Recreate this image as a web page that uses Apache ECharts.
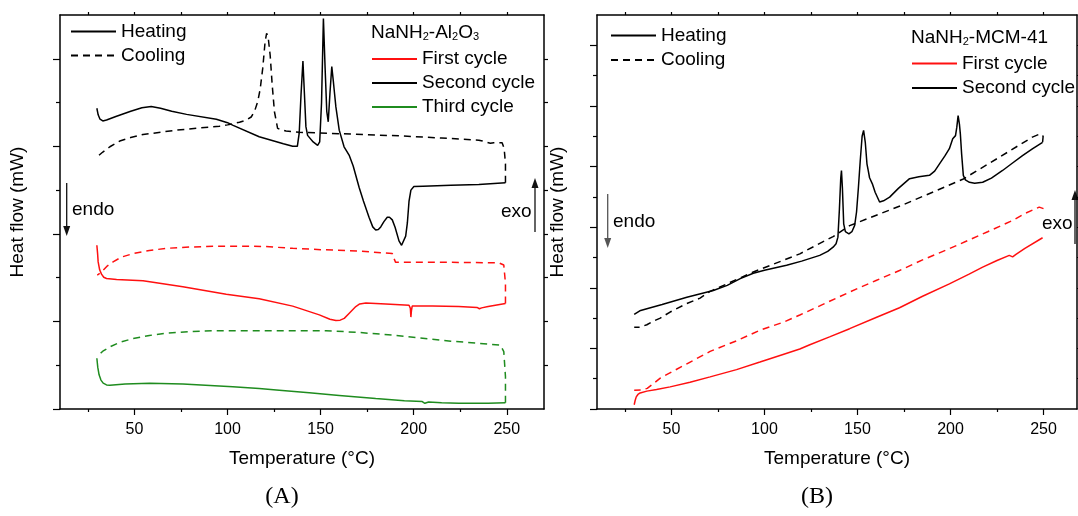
<!DOCTYPE html>
<html>
<head>
<meta charset="utf-8">
<script src="https://cdn.jsdelivr.net/npm/echarts@6/dist/echarts.min.js"></script>
<style>
html,body{margin:0;padding:0;background:#fff;}
#chart{width:1078px;height:516px;}
</style>
</head>
<body>
<div id="chart"></div>
<script>
// ---------- tick values ----------
const xMajorTicks = [50, 100, 150, 200, 250];
const xMinorTicks = [25, 75, 125, 175, 225];
const xAllTicks = [25, 50, 75, 100, 125, 150, 175, 200, 225, 250];
const yMajorA = [0, 2, 4, 6, 8];
const yMinorA = [1, 3, 5, 7];
const yAllA = [1, 2, 3, 4, 5, 6, 7, 8];
const yMajorB = [0, 2, 4, 6, 8, 10, 12];
const yMinorB = [1, 3, 5, 7, 9, 11];
const yAllB = [1, 2, 3, 4, 5, 6, 7, 8, 9, 10, 11, 12];

// ---------- Panel A: NaNH2-Al2O3 ----------
const aSecondHeat = [[29.8,6.87],[30.5,6.72],[31.5,6.62],[33,6.58],[35,6.60],[40,6.68],[48,6.80],[54,6.88],[59,6.91],[64,6.87],[70,6.80],[78,6.73],[94,6.62],[100,6.54],[103,6.48],[117,6.22],[130,6.06],[135,6.00],[137.5,6.00],[138.5,6.3],[139.5,7.2],[140.5,7.95],[141.3,7.2],[142.1,6.45],[143,6.25],[146,6.1],[148.4,6.02],[149.5,6.1],[150.5,7.0],[151.5,8.92],[152.4,7.8],[153.3,6.8],[154.1,6.56],[155,7.2],[156,7.82],[156.8,7.5],[157.4,7.24],[158.2,6.9],[160,6.37],[162.6,5.99],[165.3,5.80],[167.5,5.55],[170.7,5.06],[173,4.75],[176,4.38],[178,4.16],[179.6,4.09],[181,4.10],[182.3,4.16],[184,4.28],[185.8,4.38],[187,4.38],[188.5,4.32],[190,4.15],[192.1,3.84],[193.5,3.74],[194.5,3.76],[195.7,3.95],[196.6,4.25],[197.5,4.75],[198.5,5.0],[200.1,5.08],[205,5.09],[220,5.11],[235,5.13],[249.3,5.17]];
const aSecondCool = [[249.3,5.17],[249.3,5.6],[248.6,5.95],[247.5,6.08],[246.6,6.10],[243,6.08],[241.2,6.07],[237,6.12],[235,6.14],[215,6.19],[192,6.24],[160,6.29],[138.5,6.32],[131.4,6.35],[126.9,6.41],[125.2,6.79],[124,7.4],[122.9,8.08],[121.8,8.5],[121,8.58],[120.2,8.4],[118.9,7.78],[117.5,7.3],[116.2,7.02],[114.5,6.8],[112.7,6.67],[110,6.6],[106.4,6.55],[100,6.49],[95.7,6.46],[85,6.42],[72.5,6.37],[60,6.30],[54.6,6.27],[48,6.20],[42.1,6.12],[36.8,5.99],[33,5.87],[30.5,5.78]];
const aFirstHeat = [[29.8,3.74],[30.2,3.55],[30.5,3.36],[31.3,3.18],[32.3,3.08],[33.5,3.01],[35,2.98],[40.4,2.96],[54.6,2.93],[76,2.79],[99.3,2.62],[117,2.52],[135,2.35],[149.3,2.15],[155,2.05],[158.2,2.02],[160.5,2.03],[162.7,2.07],[165,2.17],[168.9,2.34],[171,2.40],[174.3,2.42],[185,2.40],[197.5,2.37],[198.2,2.30],[198.5,2.10],[198.8,2.25],[199.2,2.35],[210,2.35],[224.2,2.34],[234,2.32],[235.3,2.29],[236.5,2.31],[240,2.34],[249.3,2.41]];
const aFirstCool = [[249.3,2.41],[249.3,2.87],[248.4,3.29],[245.7,3.34],[220,3.35],[200,3.35],[190.3,3.35],[189.3,3.45],[188.5,3.55],[170.7,3.61],[150,3.64],[135,3.67],[120.7,3.71],[110,3.72],[93.9,3.72],[80,3.70],[67.1,3.67],[58,3.62],[49.3,3.55],[43,3.47],[38.5,3.36],[35.5,3.27],[33.2,3.17],[31.5,3.10],[30,3.06]];
const aThirdHeat = [[29.8,1.16],[30.3,0.95],[31,0.78],[32,0.66],[33.2,0.59],[35,0.55],[36.8,0.54],[45,0.57],[58.2,0.59],[76,0.57],[102.8,0.51],[117,0.47],[127.8,0.43],[143.9,0.37],[160,0.31],[179.6,0.24],[195,0.19],[204.6,0.17],[206,0.13],[207,0.14],[208,0.16],[215,0.14],[224.2,0.13],[240,0.13],[249.3,0.14]];
const aThirdCool = [[249.3,0.14],[249.3,0.74],[248.4,1.31],[246.6,1.46],[220,1.55],[188.5,1.69],[170,1.75],[152.8,1.79],[135,1.79],[117,1.79],[93.9,1.79],[80,1.77],[67.1,1.73],[58,1.68],[49.3,1.61],[42,1.52],[36.8,1.42],[33,1.32],[30,1.21]];

// ---------- Panel B: NaNH2-MCM-41 ----------
const bSecondHeat = [[30,3.12],[31,3.18],[33,3.24],[36.8,3.31],[45,3.45],[58.3,3.69],[72.5,3.91],[80,4.08],[87,4.30],[94,4.48],[100,4.58],[111.9,4.74],[120,4.88],[129.7,5.07],[134,5.2],[136.9,5.34],[138.5,5.45],[139.5,5.67],[140.3,6.6],[141,7.6],[141.4,7.87],[141.9,7.3],[142.6,6.11],[143.5,5.85],[145.4,5.78],[147,5.85],[148.5,6.06],[149.5,6.5],[150.5,7.3],[151.5,8.2],[152.5,9.0],[153.3,9.19],[154.2,8.8],[155.1,8.09],[155.7,7.9],[156.5,7.63],[157.2,7.6],[158,7.43],[159.5,7.15],[161.9,6.83],[164,6.87],[167.3,6.99],[172,7.28],[178,7.60],[183,7.66],[188.7,7.71],[191.5,7.85],[194.1,8.09],[197,8.35],[199.4,8.59],[201.2,8.92],[202.7,9.02],[203.4,9.3],[204.1,9.68],[204.8,9.4],[205.3,9.08],[206,8.4],[206.9,7.71],[208,7.56],[210.2,7.48],[213,7.45],[217.3,7.48],[222,7.62],[228,7.87],[233,8.10],[238.7,8.36],[244,8.58],[249.5,8.80]];
const bSecondCool = [[249.5,8.80],[249.8,9.0],[248.3,9.08],[244,8.97],[225,8.26],[206.6,7.58],[175,6.75],[145.8,6.05],[136.9,5.69],[119,5.12],[94,4.52],[70.8,3.88],[65.4,3.66],[58.3,3.48],[49.3,3.20],[44,3.0],[40.4,2.9],[36.8,2.78],[33,2.70],[30,2.70]];
const bFirstHeat = [[30,0.14],[30.5,0.28],[31.1,0.40],[32,0.48],[33.2,0.53],[36.8,0.59],[42,0.64],[49.3,0.73],[60,0.88],[70.8,1.06],[85,1.30],[97.6,1.55],[110,1.80],[119,1.98],[124.4,2.12],[135,2.38],[145.8,2.65],[160,3.02],[172.6,3.34],[185,3.72],[199.4,4.13],[210,4.45],[217.3,4.68],[225,4.90],[231.6,5.07],[232.6,5.10],[233.4,5.02],[234,5.03],[235.2,5.10],[240,5.30],[249.5,5.65]];
const bFirstCool = [[250,6.61],[247.7,6.66],[240,6.45],[233.4,6.22],[220,5.85],[199.4,5.29],[185,4.92],[172.6,4.57],[160,4.24],[145.8,3.86],[130,3.41],[119,3.1],[110,2.86],[97.6,2.6],[85,2.25],[70.8,1.90],[58,1.48],[50,1.22],[44,1.02],[40,0.82],[37,0.68],[34,0.63],[30,0.62]];

// ---------- texts ----------
const xName = 'Temperature (°C)';
const yName = 'Heat flow (mW)';
const legendStyleNames = ['Heating', 'Cooling'];
const legendA = ['First cycle', 'Second cycle', 'Third cycle'];
const legendB = ['First cycle', 'Second cycle'];

const FONT = 'Liberation Sans, Arial, sans-serif';
const RED = '#ff1010';
const GREEN = '#1f8c1f';
const BLACK = '#000';
const DASH = [7, 5];

const chart = echarts.init(document.getElementById('chart'), null, {renderer: 'canvas'});

const axisLineStyle = {show: true, onZero: false, lineStyle: {color: '#000', width: 1.5}};

function xAxes(grid) {
  const mx = grid === 0 ? 270 : 268;
  return [
    {gridIndex: grid, type: 'value', position: 'bottom', min: 10, max: mx,
     axisLine: axisLineStyle, splitLine: {show: false},
     axisTick: {show: true, customValues: xMajorTicks, length: 6, lineStyle: {color: '#000', width: 1.2}},
     axisLabel: {show: true, customValues: xMajorTicks, margin: 13, fontSize: 16, color: '#000', fontFamily: FONT},
     name: xName, nameLocation: 'middle', nameGap: 40,
     nameTextStyle: {fontSize: 19, color: '#000', fontFamily: FONT}},
    {gridIndex: grid, type: 'value', position: 'bottom', min: 10, max: mx,
     axisLine: {show: false, onZero: false}, splitLine: {show: false},
     axisTick: {show: true, customValues: xMinorTicks, length: 3, lineStyle: {color: '#000', width: 1.2}},
     axisLabel: {show: false}},
    {gridIndex: grid, type: 'value', position: 'top', min: 10, max: mx,
     axisLine: axisLineStyle, splitLine: {show: false},
     axisTick: {show: true, customValues: xAllTicks, length: 3, lineStyle: {color: '#000', width: 1.2}},
     axisLabel: {show: false}}
  ];
}
function yAxes(grid, max, major, minor, all, gap) {
  return [
    {gridIndex: grid, type: 'value', position: 'left', min: 0, max: max,
     axisLine: axisLineStyle, splitLine: {show: false},
     axisTick: {show: true, customValues: major, length: 7, lineStyle: {color: '#000', width: 1.2}},
     axisLabel: {show: false},
     name: yName, nameLocation: 'middle', nameGap: gap, nameRotate: 90,
     nameTextStyle: {fontSize: 19, color: '#000', fontFamily: FONT}},
    {gridIndex: grid, type: 'value', position: 'left', min: 0, max: max,
     axisLine: {show: false, onZero: false}, splitLine: {show: false},
     axisTick: {show: true, customValues: minor, length: 4, lineStyle: {color: '#000', width: 1.2}},
     axisLabel: {show: false}},
    {gridIndex: grid, type: 'value', position: 'right', min: 0, max: max,
     axisLine: axisLineStyle, splitLine: {show: false},
     axisTick: {show: true, customValues: all, length: 4, lineStyle: {color: '#000', width: 1.2}},
     axisLabel: {show: false}}
  ];
}

function line(name, data, color, dashed, xi, yi) {
  return {
    type: 'line', name: name, data: data, xAxisIndex: xi, yAxisIndex: yi,
    showSymbol: false, symbol: 'none', smooth: false, animation: false,
    lineStyle: {color: color, width: 1.5, type: dashed ? DASH : 'solid'},
    itemStyle: {color: color}, z: dashed ? 2 : 3
  };
}

const legendCommon = {
  orient: 'vertical', itemWidth: 45, itemHeight: 14, itemGap: 5, selectedMode: false,
  itemStyle: {opacity: 0, borderWidth: 0},
  textStyle: {fontSize: 19, color: '#000', fontFamily: FONT}, padding: 0
};

function subTitle(x, y, text) {
  return {
    type: 'text', x: x, y: y,
    style: {
      text: text, verticalAlign: 'middle', align: 'left',
      rich: {
        a: {fontSize: 19, fontFamily: FONT, fill: '#000', color: '#000', lineHeight: 24, verticalAlign: 'bottom'},
        s: {fontSize: 11, fontFamily: FONT, fill: '#000', color: '#000', lineHeight: 4, verticalAlign: 'bottom'}
      }
    }
  };
}
function plainText(x, y, text, size, family) {
  return {type: 'text', x: x, y: y,
    style: {text: text, fontSize: size, fontFamily: family || FONT, fill: '#000', verticalAlign: 'middle', align: 'left'}};
}
function arrow(x, y1, y2, color) {
  const dir = y2 > y1 ? 1 : -1;
  return {type: 'group', children: [
    {type: 'line', shape: {x1: x, y1: y1, x2: x, y2: y2 - dir * 8}, style: {stroke: color, lineWidth: 1.3}},
    {type: 'polygon', shape: {points: [[x, y2], [x - 3.5, y2 - dir * 10], [x + 3.5, y2 - dir * 10]]}, style: {fill: color}}
  ]};
}

const option = {
  backgroundColor: '#fff',
  animation: false,
  grid: [
    {left: 60, top: 15, width: 484, height: 394, containLabel: false},
    {left: 597, top: 15, width: 480, height: 394, containLabel: false}
  ],
  xAxis: [...xAxes(0), ...xAxes(1)],
  yAxis: [...yAxes(0, 9, yMajorA, yMinorA, yAllA, 33), ...yAxes(1, 13, yMajorB, yMinorB, yAllB, 30)],
  legend: [
    Object.assign({}, legendCommon, {left: 70, top: 22, data: legendStyleNames}),
    Object.assign({}, legendCommon, {left: 371, top: 49.5, data: legendA}),
    Object.assign({}, legendCommon, {left: 610, top: 26, data: legendStyleNames, itemGap: 5.5}),
    Object.assign({}, legendCommon, {left: 911, top: 54, data: legendB, itemGap: 5.5})
  ],
  series: [
    line('Heating', [], BLACK, false, 0, 0),
    line('Cooling', [], BLACK, true, 0, 0),
    line('First cycle', aFirstHeat, RED, false, 0, 0),
    line('First cycle', aFirstCool, RED, true, 0, 0),
    line('Second cycle', aSecondHeat, BLACK, false, 0, 0),
    line('Second cycle', aSecondCool, BLACK, true, 0, 0),
    line('Third cycle', aThirdHeat, GREEN, false, 0, 0),
    line('Third cycle', aThirdCool, GREEN, true, 0, 0),
    line('First cycle', bFirstHeat, RED, false, 3, 3),
    line('First cycle', bFirstCool, RED, true, 3, 3),
    line('Second cycle', bSecondHeat, BLACK, false, 3, 3),
    line('Second cycle', bSecondCool, BLACK, true, 3, 3)
  ],
  graphic: [
    subTitle(371, 30, '{a|NaNH}{s|2}{a|-Al}{s|2}{a|O}{s|3}'),
    subTitle(911, 35, '{a|NaNH}{s|2}{a|-MCM-41}'),
    plainText(72, 210, 'endo', 19),
    plainText(501, 212, 'exo', 19),
    plainText(613, 222, 'endo', 19),
    plainText(1042, 224, 'exo', 19),
    arrow(66.7, 183, 236, '#111'),
    arrow(535, 232, 178, '#111'),
    arrow(607.7, 194, 248, '#555'),
    arrow(1075, 244, 190, '#111'),
    {type: 'text', x: 282, y: 497, style: {text: '(A)', fontSize: 24, fontFamily: 'Liberation Serif, serif', fill: '#000', align: 'center', verticalAlign: 'middle'}},
    {type: 'text', x: 817, y: 497, style: {text: '(B)', fontSize: 24, fontFamily: 'Liberation Serif, serif', fill: '#000', align: 'center', verticalAlign: 'middle'}}
  ]
};
chart.setOption(option);
</script>
</body>
</html>
